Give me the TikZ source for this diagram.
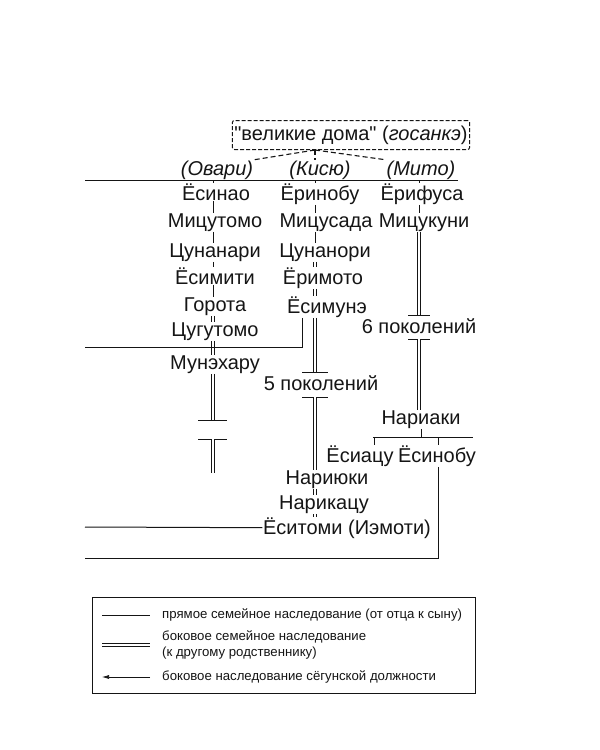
\documentclass[tikz,border=0pt]{standalone}
\usepackage{fontspec}
\setmainfont{Liberation Sans}[Ligatures=TeXOff]
\usetikzlibrary{arrows.meta,positioning}
\definecolor{ink}{HTML}{151515}
\tikzset{
  >=Latex,
  every node/.style={text=ink},
  person/.style={font=\fontsize{20}{23}\selectfont,inner sep=0.5pt,anchor=base},
  house/.style={font=\fontsize{20}{23}\selectfont\itshape,inner sep=0.5pt,anchor=base},
  direct/.style={draw=ink,line width=1pt},
  lateral/.style={draw=ink,double=white,line width=0.85pt,double distance=2.2pt},
  genbar/.style={draw=ink,line width=1pt},
  dashlink/.style={draw=ink,dash pattern=on 5pt off 3pt,line width=1.1pt},
  legendtxt/.style={font=\fontsize{13.2}{16.5}\selectfont,anchor=west,inner sep=0pt,align=left},
}

\begin{document}
\begin{tikzpicture}[x=1pt,y=-1pt]
\fill[white] (0,0) rectangle (600,750);
\useasboundingbox (0,0) rectangle (600,750);

% columns
\coordinate (cO) at (213,0);
\coordinate (cK) at (315,0);
\coordinate (cM) at (419,0);

% great houses
\node[draw=ink,dash pattern=on 4pt off 2pt,rounded corners=2pt,line width=1pt,font=\fontsize{20}{23}\selectfont,
      minimum width=237pt,minimum height=29pt,inner sep=2pt] (gosanke) at (351,135)
      {"великие дома" (\textit{госанкэ})};
\node[house] (owari) at (217,175) {(Овари)};
\node[house] (kishu) at (320,175) {(Кисю)};
\node[house] (mito) at (421,175) {(Мито)};
\coordinate (root) at (cK |- gosanke.south);
\draw[dashlink] (root) -- (owari.north east);
\draw[dashlink] (root) -- (kishu.north -| cK);
\draw[dashlink] (root) -- (mito.north west);

\coordinate (topL) at (85,180);
\coordinate (topR) at (458,180);
\draw[direct] (topL) -- (topR);

% Owari
\node[person] (o1) at (216,200) {Ёсинао};
\node[person] (o2) at (215,227) {Мицутомо};
\node[person] (o3) at (215,257) {Цунанари};
\node[person] (o4) at (215,284) {Ёсимити};
\node[person] (o5) at (215,311) {Горота};
\node[person] (o6) at (215,336) {Цугутомо};
\node[person] (o7) at (215,369) {Мунэхару};
\draw[direct] (cO |- topL) -- (o1.north -| cO);
\foreach \a/\b in {o1/o2,o2/o3,o3/o4,o4/o5}
  \draw[direct] (\a.south -| cO) -- (\b.north -| cO);
\foreach \a/\b in {o5/o6,o6/o7}
  \draw[lateral] (\a.south -| cO) -- (\b.north -| cO);
\coordinate (obar1) at (213,420);
\coordinate (obar2) at (213,439);
\coordinate (oend) at (213,473);
\draw[lateral] (o7.south -| cO) -- (obar1);
\draw[genbar] ([xshift=-15pt]obar1) -- ([xshift=14pt]obar1);
\draw[genbar] ([xshift=-15pt]obar2) -- ([xshift=14pt]obar2);
\draw[lateral] (obar2) -- (oend);

% Kishu
\node[person] (k1) at (320,200) {Ёринобу};
\node[person] (k2) at (326,227) {Мицусада};
\node[person] (k3) at (325,257) {Цунанори};
\node[person] (k4) at (323,284) {Ёримото};
\node[person] (k5) at (327,313) {Ёсимунэ};
\draw[direct] (cK |- topL) -- (k1.north -| cK);
\foreach \a/\b in {k1/k2,k2/k3}
  \draw[direct] (\a.south -| cK) -- (\b.north -| cK);
\foreach \a/\b in {k3/k4,k4/k5}
  \draw[lateral] (\a.south -| cK) -- (\b.north -| cK);
\coordinate (kbar1) at (315,372);
\coordinate (kbar2) at (315,397);
\draw[lateral] (k5.south -| cK) -- (kbar1);
\draw[genbar] ([xshift=-13pt]kbar1) -- ([xshift=13pt]kbar1);
\node[person] (kgen) at (321,390) {5 поколений};
\draw[genbar] ([xshift=-13pt]kbar2) -- ([xshift=13pt]kbar2);
\node[person] (k6) at (327,484) {Нариюки};
\node[person] (k7) at (324,509) {Нарикацу};
\node[person] (k8) at (347,534) {Ёситоми (Иэмоти)};
\draw[lateral] (kbar2) -- (k6.north -| cK);
\foreach \a/\b in {k6/k7,k7/k8}
  \draw[lateral] (\a.south -| cK) -- (\b.north -| cK);

% Mito
\node[person] (m1) at (422,200) {Ёрифуса};
\node[person] (m2) at (424,227) {Мицукуни};
\draw[direct] (cM |- topL) -- (m1.north -| cM);
\draw[direct] (m1.south -| cM) -- (m2.north -| cM);
\coordinate (mbar1) at (419,315);
\coordinate (mbar2) at (419,339);
\draw[lateral] (m2.south -| cM) -- (mbar1);
\draw[genbar] ([xshift=-11pt]mbar1) -- ([xshift=11pt]mbar1);
\node[person] (mgen) at (419,333) {6 поколений};
\draw[genbar] ([xshift=-11pt]mbar2) -- ([xshift=11pt]mbar2);
\node[person] (m3) at (421,424) {Нариаки};
\draw[lateral] (mbar2) -- (m3.north -| cM);
\coordinate (mfork) at (421,437);
\coordinate (forkL) at (373,437);
\coordinate (forkR) at (473,437);
\draw[direct] (m3.south -| mfork) -- (mfork);
\draw[direct] (forkL) -- (forkR);
\node[person] (m4) at (360,462) {Ёсиацу};
\node[person] (m5) at (437,462) {Ёсинобу};
\coordinate (dropA) at (374,437);
\coordinate (dropB) at (438,437);
\draw[direct] (dropA) -- (dropA |- m4.north);
\draw[direct] (dropB) -- (dropB |- m5.north);

% shogun line
\coordinate (sA) at (302,347);
\coordinate (sAL) at (85,347);
\draw[direct] (sA |- k5.south) -- (sA) -- (sAL);
\coordinate (sB) at (85,527);
\draw[direct] (k8.west) -- (sB);
\coordinate (sC) at (438,558);
\coordinate (sCL) at (85,558);
\draw[direct] (m5.south -| sC) -- (sC) -- (sCL);

% legend
\node[draw=ink,line width=0.6pt,minimum width=383pt,minimum height=96pt,
      inner sep=0pt,anchor=north west] (legend) at (92,597) {};
\coordinate (lg1a) at (102,615); \coordinate (lg1b) at (150,615);
\coordinate (lg2a) at (102,645); \coordinate (lg2b) at (150,645);
\coordinate (lg3a) at (102,677); \coordinate (lg3b) at (150,677);
\draw[direct,line width=0.7pt] (lg1a) -- (lg1b);
\draw[lateral,line width=0.6pt,double distance=2pt] (lg2a) -- (lg2b);
\draw[direct,line width=0.7pt,-{Latex[length=7pt,width=4pt]}] (lg3b) -- (lg3a);
\node[legendtxt] (lt1) at (162,615) {прямое семейное наследование (от отца к сыну)};
\node[legendtxt] (lt2) at (162,645) {боковое семейное наследование\\(к другому родственнику)};
\node[legendtxt] (lt3) at (162,677) {боковое наследование сёгунской должности};
\end{tikzpicture}
\end{document}
